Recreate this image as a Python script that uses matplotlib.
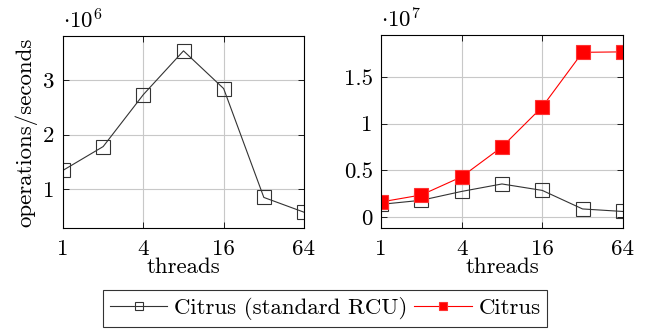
import matplotlib
matplotlib.use("Agg")
import matplotlib.pyplot as plt

plt.rcParams.update({
    "font.family": "serif",
    "font.serif": ["cmr10", "DejaVu Serif"],
    "mathtext.fontset": "cm",
    "axes.formatter.use_mathtext": True,
    "font.size": 16.5,
    "axes.linewidth": 0.8,
    "xtick.direction": "in",
    "ytick.direction": "in",
})

threads = [1, 2, 4, 8, 16, 32, 64]
rcu = [1.345, 1.78, 2.73, 3.53, 2.84, 0.85, 0.58]          # x 1e6
citrus = [0.16, 0.235, 0.43, 0.75, 1.18, 1.765, 1.77]       # x 1e7
rcu_e7 = [v / 10 for v in rcu]

xticks = [1, 4, 16, 64]
yticks_l = [1, 2, 3]
yticks_r = [0, 0.5, 1, 1.5]
yticklabels_r = ["0", "0.5", "1", "1.5"]

fig = plt.figure(figsize=(6.57, 3.31), dpi=100)
ax1 = fig.add_axes([0.0959, 0.311, 0.3668, 0.58])
ax2 = fig.add_axes([0.580, 0.311, 0.368, 0.583])

BLK = dict(color="#333333", lw=0.8, marker="s", ms=9.5, mfc="none",
           mec="#333333", mew=0.8)
RED = dict(color="red", lw=0.8, marker="s", ms=9.5, mfc="red", mec="#ff3333",
           mew=0.8)


def style(ax):
    ax.set_xscale("log", base=2)
    ax.set_xticks(xticks)
    ax.set_xticklabels([str(t) for t in xticks])
    ax.minorticks_off()
    ax.set_xlim(1, 64)
    ax.grid(True, color="#c8c8c8", lw=0.8)
    ax.set_axisbelow(True)
    ax.tick_params(top=True, right=True, length=4, width=0.6, pad=8)
    ax.set_xlabel("threads", labelpad=-1)


ax1.plot(threads, rcu, **BLK, label="Citrus (standard RCU)")
style(ax1)
ax1.set_ylim(0.29, 3.8)
ax1.set_yticks(yticks_l)
ax1.set_yticklabels([str(t) for t in yticks_l])
ax1.tick_params(axis="y", pad=6)
ax1.set_ylabel("operations/seconds", labelpad=4)
ax1.text(0.0, 1.02, r"$\cdot10^6$", transform=ax1.transAxes, fontsize=16.5,
         ha="left", va="bottom")

l1, = ax2.plot(threads, rcu_e7, **BLK)
l2, = ax2.plot(threads, citrus, **RED)
style(ax2)
ax2.set_ylim(-0.12, 1.95)
ax2.set_yticks(yticks_r)
ax2.set_yticklabels(yticklabels_r)
ax2.tick_params(axis="y", pad=6)
ax2.text(0.0, 1.02, r"$\cdot10^7$", transform=ax2.transAxes, fontsize=16.5,
         ha="left", va="bottom")

leg = fig.legend([l1, l2], ["Citrus (standard RCU)", "Citrus"],
                 loc="center", bbox_to_anchor=(0.495, 0.069), ncol=2,
                 frameon=True, fancybox=False, edgecolor="black",
                 handlelength=2.5, handletextpad=0.3, columnspacing=0.3,
                 borderpad=0.3, markerscale=0.65)
leg.get_frame().set_linewidth(0.8)

fig.savefig("out.png", dpi=100)
